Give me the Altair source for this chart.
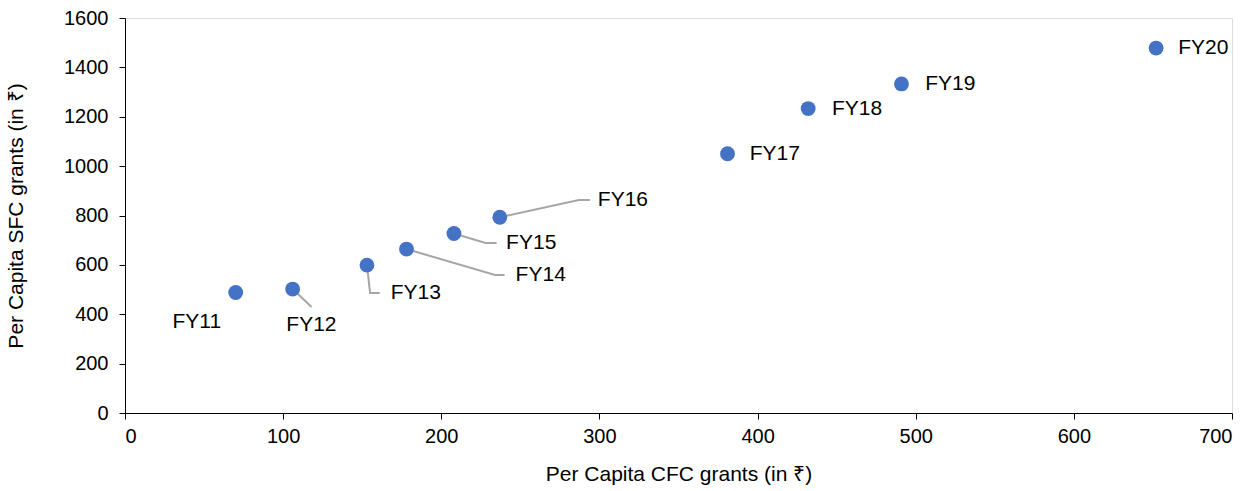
import altair as alt
import pandas as pd

years = ["FY11", "FY12", "FY13", "FY14", "FY15", "FY16", "FY17", "FY18", "FY19", "FY20"]
cfc = [70, 106, 153, 178, 208, 237, 381, 432, 491, 652]
sfc = [488, 502, 599, 664, 727, 793, 1050, 1233, 1333, 1478]

# label anchor (left edge) positions, in data units
label_x = [30, 102, 168, 247, 241, 299, 395, 447, 506, 666]
label_y = [369, 356, 486, 559, 689, 863, 1050, 1233, 1333, 1478]

# leader line elbows (None = no leader)
elbow_x = [None, None, 155, 234, 228, 287, None, None, None, None]
elbow_y = [None, None, 486, 559, 689, 863, None, None, None, None]
end_x = [None, 118, 161, 240, 235, 294, None, None, None, None]
end_y = [None, 429, 486, 559, 689, 863, None, None, None, None]

pts = pd.DataFrame({"year": years, "cfc": cfc, "sfc": sfc})
labels = pd.DataFrame({"year": years, "lx": label_x, "ly": label_y})

rows = []
for i, y in enumerate(years):
    if end_x[i] is None:
        continue
    seq = [(cfc[i], sfc[i])]
    if elbow_x[i] is not None:
        seq.append((elbow_x[i], elbow_y[i]))
    seq.append((end_x[i], end_y[i]))
    for k, (a, b) in enumerate(seq):
        rows.append({"year": y, "order": k, "x": a, "y": b})
leaders = pd.DataFrame(rows)

FONT = "Liberation Sans"
FS = 20
xs = alt.Scale(domain=[0, 700], nice=False)
ys = alt.Scale(domain=[0, 1600], nice=False)

common = dict(grid=False, domainColor="#000000", tickColor="#000000", tickSize=6, format="d",
              labelFontSize=FS, titleFontSize=21, labelColor="#000000", titleColor="#000000",
              labelFont=FONT, titleFont=FONT, titleFontWeight="normal")
xaxis = alt.Axis(values=list(range(0, 701, 100)), title="Per Capita CFC grants (in ₹)",
                 labelPadding=7, titlePadding=17, **common)
yaxis = alt.Axis(values=list(range(0, 1601, 200)), title="Per Capita SFC grants (in ₹)",
                 labelPadding=11, titlePadding=37, **common)

lines = alt.Chart(leaders).mark_line(color="#a6a6a6", strokeWidth=2).encode(
    x=alt.X("x:Q", scale=xs, axis=xaxis),
    y=alt.Y("y:Q", scale=ys, axis=yaxis),
    detail="year:N",
    order="order:Q",
)

points = alt.Chart(pts).mark_circle(size=220, color="#4472C4", opacity=1).encode(
    x=alt.X("cfc:Q", scale=xs),
    y=alt.Y("sfc:Q", scale=ys),
)

text = alt.Chart(labels).mark_text(align="left", baseline="middle", fontSize=21, font=FONT, color="#000000").encode(
    x=alt.X("lx:Q", scale=xs),
    y=alt.Y("ly:Q", scale=ys),
    text="year:N",
)

chart = alt.layer(lines, points, text).properties(
    width=1107, height=395,
    autosize=alt.AutoSizeParams(type="none"),
    padding={"left": 125, "top": 18, "right": 26, "bottom": 78},
).configure_view(stroke=None).configure(background="#ffffff")

chart.save("out.html", embed_options={"renderer": "svg", "actions": False})
